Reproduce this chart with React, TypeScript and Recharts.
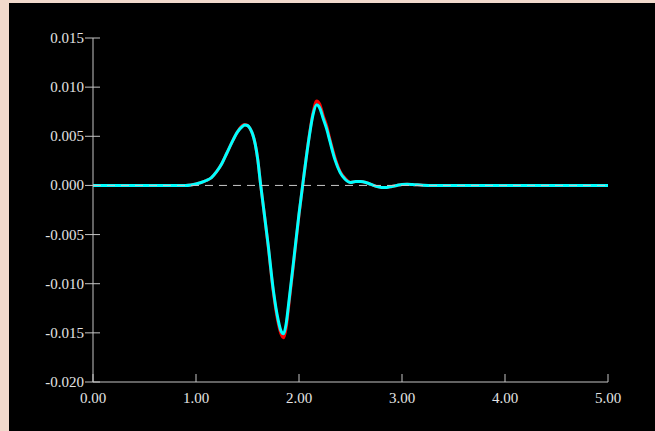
import React from 'react';
import { LineChart, Line, XAxis, YAxis, ReferenceLine } from 'recharts';

const xValues = [0, 0.5, 0.9, 0.95, 1.0, 1.05, 1.1, 1.15, 1.2, 1.25, 1.3, 1.35, 1.4, 1.45, 1.475, 1.5, 1.525, 1.55, 1.575, 1.6, 1.625, 1.65, 1.7, 1.75, 1.8, 1.825, 1.85, 1.875, 1.9, 1.95, 2.0, 2.05, 2.1, 2.136, 2.172, 2.2, 2.235, 2.27, 2.3, 2.35, 2.4, 2.45, 2.5, 2.55, 2.6, 2.65, 2.7, 2.75, 2.8, 2.85, 2.9, 2.95, 3.0, 3.05, 3.1, 3.2, 3.3, 3.5, 4.0, 4.5, 5.0];

const cyanSeries = [0, 0, 0, 0.00005, 0.00015, 0.0003, 0.0005, 0.0008, 0.0014, 0.0022, 0.0033, 0.0044, 0.0054, 0.006, 0.00615, 0.0061, 0.0058, 0.0052, 0.0042, 0.0026, 0.0003, -0.0018, -0.006, -0.0106, -0.0138, -0.0148, -0.0151, -0.0141, -0.012, -0.0075, -0.0029, 0.0012, 0.005, 0.0072, 0.0082, 0.0079, 0.0068, 0.0057, 0.0045, 0.0026, 0.0013, 0.0006, 0.0003, 0.0004, 0.0004, 0.0003, 0.0001, -0.0001, -0.0002, -0.0002, -0.0001, 0, 0.0001, 0.00012, 0.0001, 0.00003, 0, 0, 0, 0, 0];

const redSeries = [0, 0, 0, 0.00005, 0.00015, 0.0003, 0.0005, 0.0008, 0.0014, 0.0022, 0.0033, 0.0044, 0.0054, 0.0061, 0.0062, 0.0061, 0.0058, 0.0052, 0.0042, 0.0026, 0.0003, -0.0018, -0.0061, -0.0108, -0.0141, -0.0151, -0.0155, -0.0145, -0.0123, -0.0077, -0.003, 0.0012, 0.0051, 0.0074, 0.0086, 0.0083, 0.0071, 0.006, 0.0047, 0.0028, 0.0014, 0.0007, 0.0003, 0.0004, 0.0004, 0.0003, 0.0001, -0.0001, -0.0002, -0.0002, -0.0001, 0, 0.0001, 0.00012, 0.0001, 0.00003, 0, 0, 0, 0, 0];

const xTicks = [0, 1, 2, 3, 4, 5];
const yTicks = [-0.02, -0.015, -0.01, -0.005, 0, 0.005, 0.01, 0.015];

const data = xValues.map((x, i) => ({ x, cyan: cyanSeries[i], red: redSeries[i] }));

const TEXT = '#e4e4e4';
const AXIS = '#c4c4c4';
const FONT = '"Liberation Serif", "DejaVu Serif", serif';

const YTick = (props: any) => {
  const { x, y, payload } = props;
  return (
    <g>
      <line x1={x + 1} y1={y} x2={x + 16} y2={y} stroke={AXIS} strokeWidth={1} />
      <text x={x} y={y} dy={5} textAnchor="end" fill={TEXT} fontSize={15} fontFamily={FONT}>
        {Number(payload.value).toFixed(3)}
      </text>
    </g>
  );
};

const XTick = (props: any) => {
  const { x, y, payload } = props;
  return (
    <g>
      <line x1={x} y1={y - 9} x2={x} y2={y - 1} stroke={AXIS} strokeWidth={1} />
      <text x={x} y={y} dy={20} textAnchor="middle" fill={TEXT} fontSize={15} fontFamily={FONT}>
        {Number(payload.value).toFixed(2)}
      </text>
    </g>
  );
};

export default function App() {
  return (
    <div style={{ position: 'absolute', left: 0, top: 0, width: 655, height: 431, background: '#f1d9cc', overflow: 'hidden' }}>
      <div style={{ position: 'absolute', left: 9, top: 3, width: 646, height: 428, background: '#000' }} />
      <div style={{ position: 'absolute', left: 0, top: 0 }}>
        <LineChart width={655} height={431} data={data} margin={{ top: 38, right: 47, bottom: 19, left: 0 }}>
          <XAxis
            dataKey="x"
            type="number"
            domain={[0, 5]}
            ticks={xTicks}
            interval={0}
            height={30}
            tickLine={false}
            tickSize={0}
            tickMargin={1}
            stroke={AXIS}
            tick={<XTick />}
          />
          <YAxis
            type="number"
            domain={[-0.02, 0.015]}
            ticks={yTicks}
            interval={0}
            width={93}
            tickLine={false}
            tickSize={0}
            tickMargin={9}
            stroke={AXIS}
            tick={<YTick />}
          />
          <Line type="monotone" dataKey="red" stroke="#ff0000" strokeWidth={3} dot={false} isAnimationActive={false} />
          <Line type="monotone" dataKey="cyan" stroke="#00ffff" strokeWidth={3} dot={false} isAnimationActive={false} />
          <ReferenceLine y={0} stroke="#c8c8c8" strokeWidth={1} strokeDasharray="8 6" ifOverflow="visible" />
        </LineChart>
      </div>
    </div>
  );
}
